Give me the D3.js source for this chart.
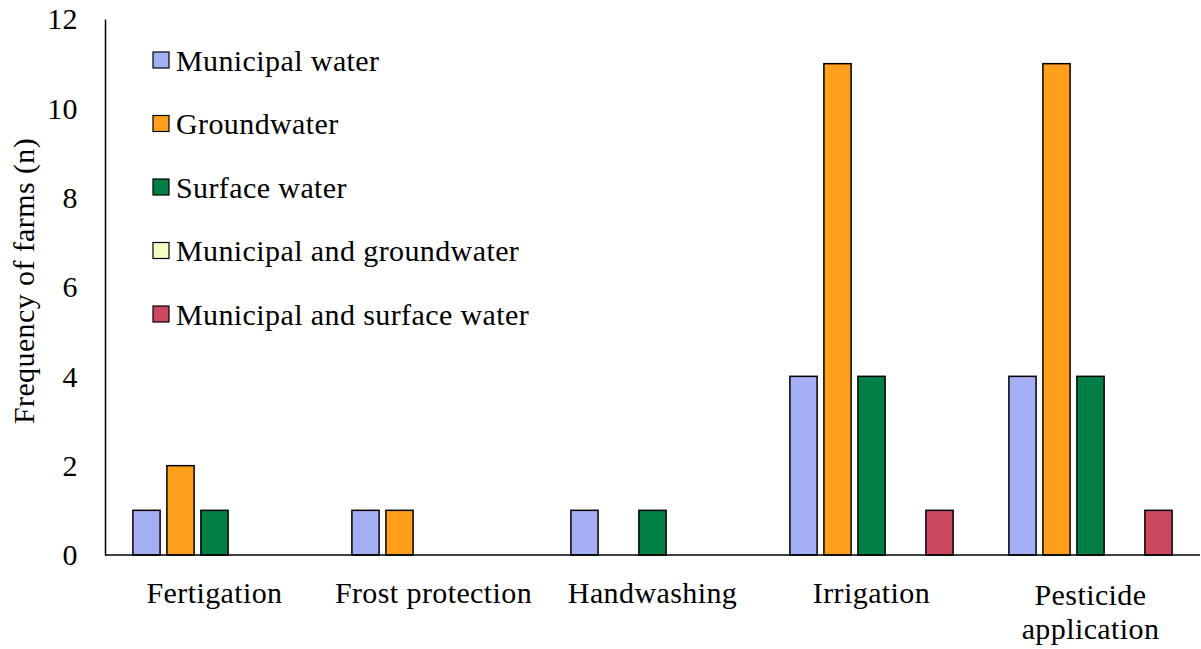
<!DOCTYPE html>
<html>
<head>
<meta charset="utf-8">
<script src="https://cdn.jsdelivr.net/npm/d3@7"></script>
<style>
  body { margin: 0; background: #fff; }
  text { font-family: "Liberation Serif", "Times New Roman", serif; fill: #000; letter-spacing: 0.4px; }
</style>
</head>
<body>
<div id="chart"></div>
<script>
const categories = ["Fertigation", "Frost protection", "Handwashing", "Irrigation", "Pesticide application"],
  seriesNames = ["Municipal water", "Groundwater", "Surface water", "Municipal and groundwater", "Municipal and surface water"],
  seriesColors = ["#a4aff4", "#ff9f1c", "#017f46", "#f2ffc4", "#cc4860"],
  municipal = [1, 1, 1, 4, 4],
  groundwater = [2, 1, 0, 11, 11],
  surface = [1, 0, 1, 4, 4],
  municipalGround = [0, 0, 0, 0, 0],
  municipalSurface = [0, 0, 0, 1, 1],
  yTicks = [0, 2, 4, 6, 8, 10, 12];

const seriesValues = [municipal, groundwater, surface, municipalGround, municipalSurface];

const width = 1201, height = 649,
  margin = { top: 19, right: 1, bottom: 94, left: 105 },
  fontSize = 30;

const svg = d3.select("#chart").append("svg")
  .attr("width", width)
  .attr("height", height);

const x0 = d3.scaleBand().domain(categories).range([margin.left, width - margin.right]).padding(0);
const x1 = d3.scaleBand().domain(d3.range(seriesNames.length)).range([0, 170]).paddingInner(0.2).paddingOuter(0.1);
const y = d3.scaleLinear().domain([0, 12]).range([height - margin.bottom, margin.top]);

// bars
categories.forEach((cat, ci) => {
  const g = svg.append("g")
    .attr("transform", "translate(" + (x0(cat) + (x0.bandwidth() - 170) / 2) + ",0)");
  seriesValues.forEach((vals, si) => {
    if (vals[ci] <= 0) return;
    g.append("rect")
      .attr("x", x1(si))
      .attr("y", y(vals[ci]))
      .attr("width", x1.bandwidth())
      .attr("height", y(0) - y(vals[ci]))
      .attr("fill", seriesColors[si])
      .attr("stroke", "#000")
      .attr("stroke-width", 1.5);
  });
});

// y axis
const yAxis = svg.append("g")
  .attr("transform", "translate(" + margin.left + ",0)")
  .call(d3.axisLeft(y).tickValues(yTicks).tickSize(0).tickPadding(27));
yAxis.select(".domain").attr("stroke", "#000").attr("stroke-width", 1.5);
yAxis.selectAll("text").attr("font-size", fontSize).attr("dy", "0.33em");

// x axis
svg.append("line")
  .attr("x1", margin.left).attr("x2", width - margin.right)
  .attr("y1", y(0)).attr("y2", y(0))
  .attr("stroke", "#000").attr("stroke-width", 1.5);

svg.append("g").selectAll("text")
  .data(categories)
  .enter()
  .append("text")
  .attr("x", d => x0(d) + x0.bandwidth() / 2)
  .attr("y", 603)
  .attr("text-anchor", "middle")
  .attr("font-size", fontSize)
  .each(function (d) {
    const t = d3.select(this);
    if (d === "Pesticide application") {
      t.append("tspan").attr("x", t.attr("x")).attr("dy", 2).text("Pesticide");
      t.append("tspan").attr("x", t.attr("x")).attr("dy", 34).text("application");
    } else {
      t.text(d);
    }
  });

// y title
svg.append("text")
  .attr("transform", "translate(34,281) rotate(-90)")
  .attr("text-anchor", "middle")
  .attr("font-size", fontSize)
  .text("Frequency of farms (n)");

// legend
const legend = svg.append("g").attr("transform", "translate(153,52)");
seriesNames.forEach((name, i) => {
  const row = legend.append("g").attr("transform", "translate(0," + (i * 63.5) + ")");
  row.append("rect")
    .attr("width", 16).attr("height", 16)
    .attr("fill", seriesColors[i])
    .attr("stroke", "#000").attr("stroke-width", 1.2);
  row.append("text")
    .attr("x", 23).attr("y", 8)
    .attr("dy", "0.35em")
    .attr("font-size", fontSize)
    .text(name);
});
</script>
</body>
</html>
